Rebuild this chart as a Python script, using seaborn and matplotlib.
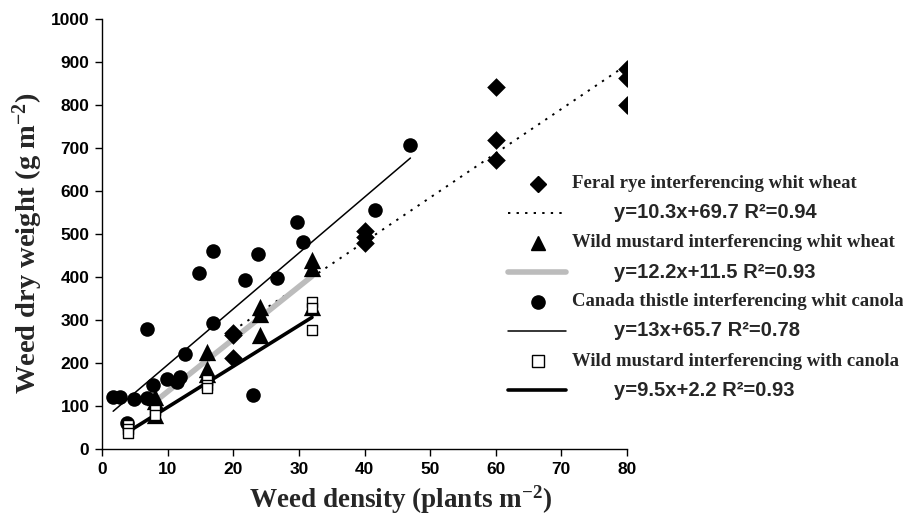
import numpy as np
import pandas as pd
import matplotlib
matplotlib.use("Agg")
import matplotlib.pyplot as plt
from matplotlib.lines import Line2D
import seaborn as sns

# Feral rye interfering with wheat (diamonds)
rye_x = [20, 20, 20, 40, 40, 40, 60, 60, 60, 80, 80, 80]
rye_y = [270, 265, 211, 507, 493, 478, 842, 718, 672, 883, 862, 801]

# Wild mustard interfering with wheat (triangles)
mw_x = [8, 8, 8, 16, 16, 16, 24, 24, 24, 32, 32, 32]
mw_y = [122, 112, 80, 225, 185, 175, 330, 315, 266, 440, 422, 330]

# Canada thistle interfering with canola (circles)
ct_x = [1.7, 2.7, 3.8, 4.8, 6.8, 6.8, 7.8, 9.9, 11.5, 11.9, 12.6, 14.8,
        16.9, 16.9, 21.8, 23, 23.8, 26.6, 29.7, 30.7, 41.6, 47]
ct_y = [121, 121, 60, 116, 118, 278, 149, 163, 155, 168, 221, 409,
        460, 293, 392, 126, 454, 397, 527, 482, 556, 706]

# Wild mustard interfering with canola (open squares)
mc_x = [4, 4, 4, 8, 8, 16, 16, 16, 32, 32, 32]
mc_y = [56, 47, 38, 90, 78, 160, 150, 141, 341, 327, 277]

# linear trend lines y = a*x + b
slopes = [10.3, 12.2, 13.0, 9.5]
intercepts = [69.7, 11.5, 65.7, 2.2]

labels = ["Feral rye interferencing whit wheat",
          "Wild mustard interferencing whit wheat",
          "Canada thistle interferencing whit canola",
          "Wild mustard interferencing with canola"]
equations = ["y=10.3x+69.7 R\u00b2=0.94",
             "y=12.2x+11.5 R\u00b2=0.93",
             "y=13x+65.7 R\u00b2=0.78",
             "y=9.5x+2.2 R\u00b2=0.93"]

sns.set_style("ticks")
plt.rcParams['font.family'] = ['Liberation Sans', 'DejaVu Sans']
plt.rcParams['mathtext.fontset'] = 'custom'
plt.rcParams['mathtext.rm'] = 'Liberation Serif:bold'
plt.rcParams['mathtext.bf'] = 'Liberation Serif:bold'
plt.rcParams['mathtext.it'] = 'Liberation Serif:bold'

W, H = 904, 517
fig = plt.figure(figsize=(W / 100, H / 100), dpi=100)
ax = fig.add_axes([102 / W, 1 - 449 / H, (627 - 102) / W, (449 - 19) / H])

xs_all = [rye_x, mw_x, ct_x, mc_x]
ys_all = [rye_y, mw_y, ct_y, mc_y]
line_styles = [
    dict(color='black', lw=1.4, linestyle=(0, (1.2, 3.2))),
    dict(color='#bcbcbc', lw=4.0, linestyle='-'),
    dict(color='black', lw=1.1, linestyle='-'),
    dict(color='black', lw=2.6, linestyle='-'),
]

# trend lines over each series' x range
for xs, a, b, st in zip(xs_all, slopes, intercepts, line_styles):
    lx = np.array([min(xs), max(xs)])
    sns.lineplot(x=lx, y=a * lx + b, ax=ax, zorder=2, **st)

# markers
sns.scatterplot(x=rye_x, y=rye_y, marker='D', s=90, color='black',
                edgecolor='black', linewidth=0, ax=ax, zorder=3)
sns.scatterplot(x=mw_x, y=mw_y, marker='^', s=155, color='black',
                edgecolor='black', linewidth=0, ax=ax, zorder=3)
sns.scatterplot(x=ct_x, y=ct_y, marker='o', s=110, color='black',
                edgecolor='black', linewidth=0, ax=ax, zorder=3)
sns.scatterplot(x=mc_x, y=mc_y, marker='s', s=60, color='white',
                edgecolor='black', linewidth=1.0, ax=ax, zorder=4)

ax.set_xlim(0, 80)
ax.set_ylim(0, 1000)
ax.set_xticks(range(0, 81, 10))
ax.set_yticks(range(0, 1001, 100))
ax.tick_params(direction='out', length=5, width=1, colors='black',
               labelsize=12.5, pad=4)
for t in ax.get_xticklabels() + ax.get_yticklabels():
    t.set_fontweight('bold')
sns.despine(ax=ax)
for s in ['left', 'bottom']:
    ax.spines[s].set_linewidth(1)
    ax.spines[s].set_color('black')

ax.set_xlabel(r'Weed density (plants m$^{\mathbf{-2}}$)',
              fontfamily='Liberation Serif', fontweight='bold', fontsize=19.5)
ax.set_ylabel(r'Weed dry weight (g m$^{\mathbf{-2}}$)',
              fontfamily='Liberation Serif', fontweight='bold', fontsize=20.5)
ax.xaxis.set_label_coords(0.568, -0.118)
ax.yaxis.set_label_coords(-0.141, 0.479)
ax.xaxis.label.set_va('center')
ax.yaxis.label.set_va('center')

# legend drawn by hand in figure pixel coordinates
def fy(py):
    return 1 - py / H

row_y = [184, 213, 243, 272, 302, 331, 361, 390]
marker_kw = [dict(marker='D', ms=8.5, mfc='black', mec='black'),
             dict(marker='^', ms=10.5, mfc='black', mec='black'),
             dict(marker='o', ms=9.5, mfc='black', mec='black'),
             dict(marker='s', ms=8, mfc='white', mec='black', mew=1)]
for i in range(4):
    ym = row_y[2 * i]
    yl = row_y[2 * i + 1]
    fig.add_artist(Line2D([538 / W], [fy(ym)], transform=fig.transFigure,
                          linestyle='none', **marker_kw[i]))
    fig.text(572 / W, fy(ym), labels[i], fontfamily='Liberation Serif',
             fontweight='bold', fontsize=13.5, va='center', ha='left')
    fig.add_artist(Line2D([508 / W, 566 / W], [fy(yl), fy(yl)],
                          transform=fig.transFigure, **line_styles[i]))
    fig.text(614 / W, fy(yl), equations[i], fontfamily='Liberation Sans',
             fontweight='bold', fontsize=14.5, va='center', ha='left')

fig.savefig('out.png', dpi=100)
